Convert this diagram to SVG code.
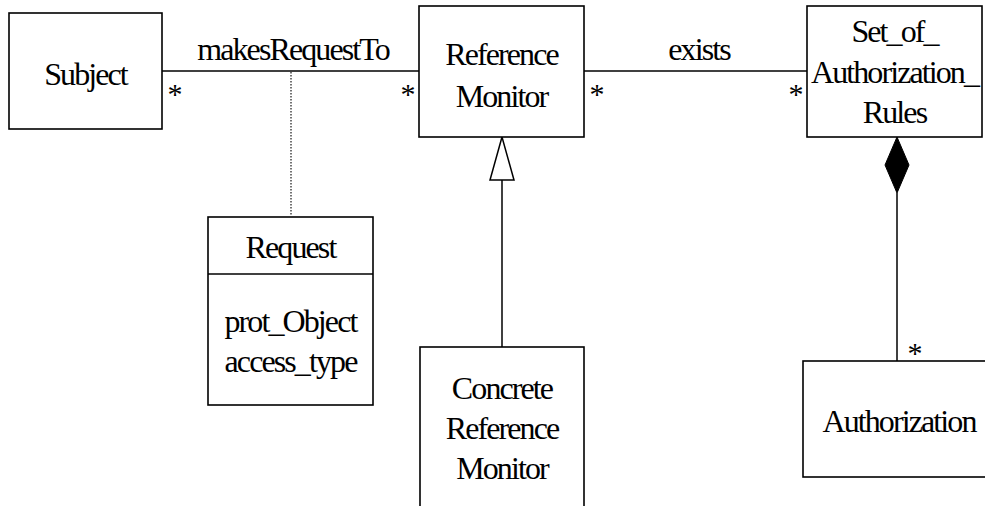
<svg xmlns="http://www.w3.org/2000/svg" width="985" height="506" viewBox="0 0 985 506">
<style>
.box{fill:#fff;stroke:#000;stroke-width:1.6}
.ln{stroke:#000;stroke-width:1.5;fill:none}
.dot{stroke:#444;stroke-width:1.5;stroke-dasharray:1.5 1.5;fill:none}
text{font-family:"Liberation Serif","Times New Roman",serif;font-size:32px;letter-spacing:-1.9px;fill:#000;text-anchor:middle}
.m{letter-spacing:0;font-size:30px}
</style>
<rect width="985" height="506" fill="#fff"/>
<g id="connectors">
<line class="ln" x1="162" y1="71" x2="419" y2="71"/>
<line class="dot" x1="291" y1="72" x2="291" y2="216"/>
<line class="ln" x1="584" y1="71" x2="807" y2="71"/>
<line class="ln" x1="502" y1="180" x2="502" y2="347"/>
<polygon class="ln" points="502,137 490,180 514,180" fill="#fff"/>
<line class="ln" x1="897" y1="193" x2="897" y2="361"/>
<polygon points="897,137 885,165 897,193 909,165" fill="#000" stroke="#000" stroke-width="1"/>
<text x="293" y="60">makesRequestTo</text>
<text x="699" y="60">exists</text>
<text class="m" x="175" y="104">*</text>
<text class="m" x="408" y="104">*</text>
<text class="m" x="597" y="104">*</text>
<text class="m" x="796" y="104">*</text>
<text class="m" x="915" y="363">*</text>
</g>
<g id="subject">
<rect class="box" x="9" y="13" width="153" height="116"/>
<text x="85.5" y="85">Subject</text>
</g>
<g id="reference-monitor">
<rect class="box" x="419" y="6" width="165" height="131"/>
<text x="501.5" y="65">Reference</text>
<text x="501.5" y="107">Monitor</text>
</g>
<g id="set-of-authorization-rules">
<rect class="box" x="807" y="6" width="175" height="131"/>
<text x="894.5" y="42">Set_of_</text>
<text x="894.5" y="83">Authorization_</text>
<text x="894.5" y="123">Rules</text>
</g>
<g id="request">
<rect class="box" x="208" y="217" width="165" height="188"/>
<line class="ln" x1="208" y1="274" x2="373" y2="274"/>
<text x="290.5" y="258">Request</text>
<text x="290.5" y="332">prot_Object</text>
<text x="290.5" y="372">access_type</text>
</g>
<g id="concrete-reference-monitor">
<rect class="box" x="420" y="347" width="164" height="170"/>
<text x="502" y="399">Concrete</text>
<text x="502" y="439">Reference</text>
<text x="502" y="479">Monitor</text>
</g>
<g id="authorization">
<rect class="box" x="803" y="361" width="195" height="116"/>
<text x="899" y="432">Authorization</text>
</g>
</svg>
